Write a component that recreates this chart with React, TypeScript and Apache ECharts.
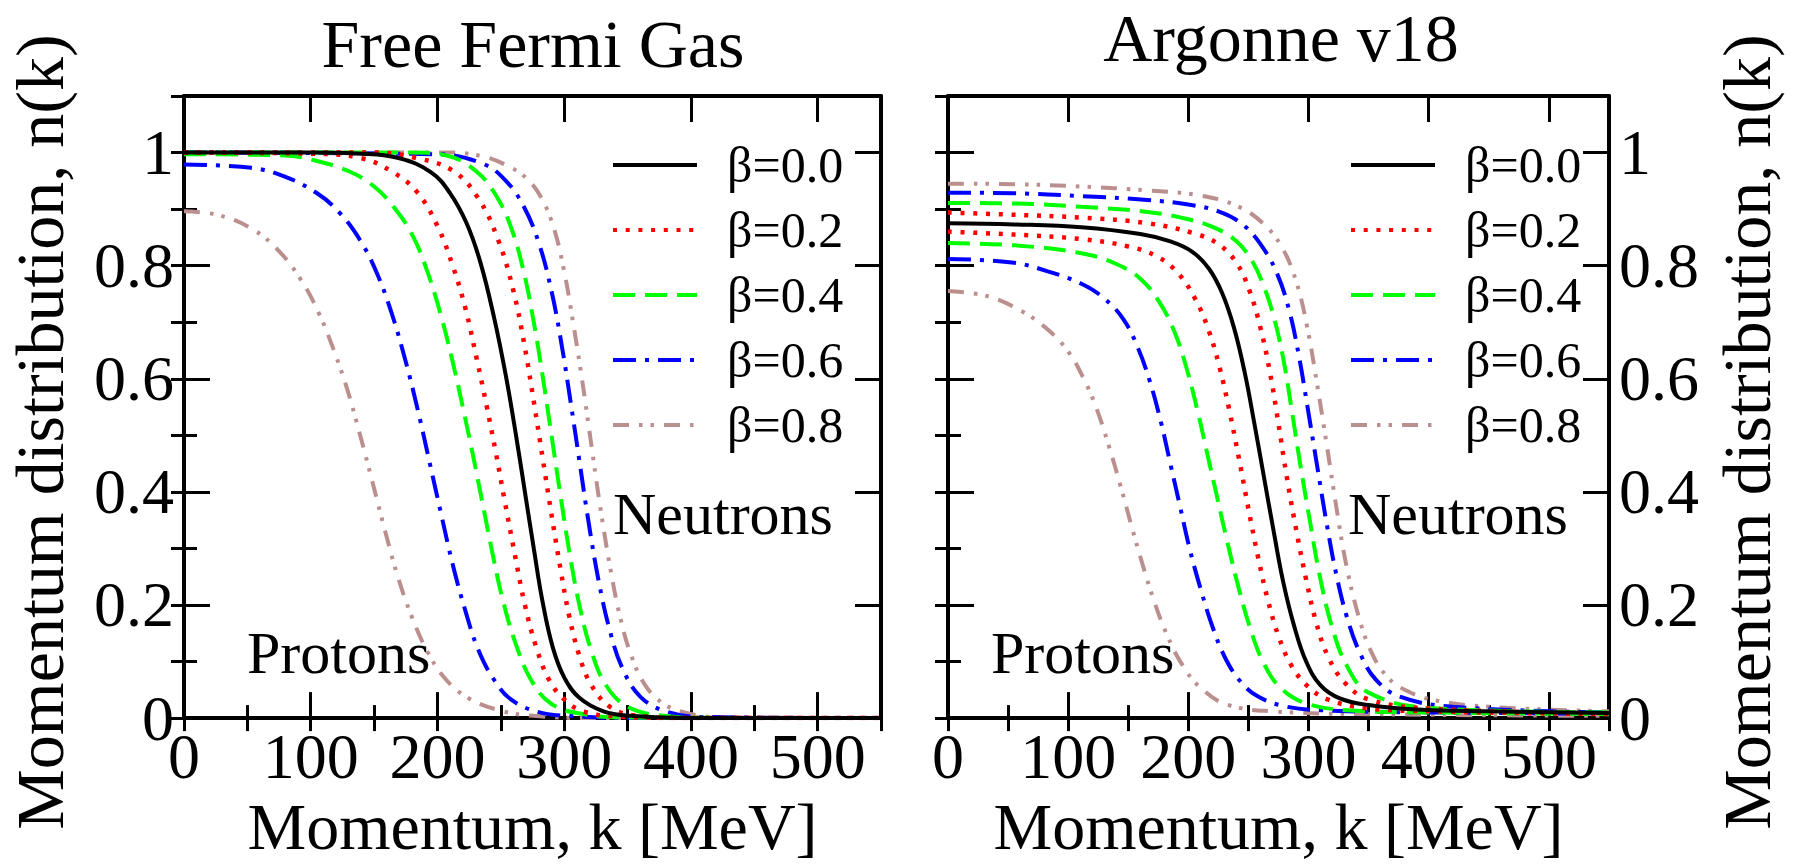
import React, { useEffect, useRef } from "react";
import * as echarts from "echarts";

// Legend labels, colours and dash patterns for the five β values
const betaLabels = ["β=0.0", "β=0.2", "β=0.4", "β=0.6", "β=0.8"];
const lineColors = ["#000000", "#ff0000", "#00ff00", "#0000ff", "#bc8f8f"];
const dashPatterns: any[] = ["solid", [4, 8.7], [22, 10], [23, 9, 4, 9], [16, 10, 3.5, 8, 3.5, 10]];
const panelTitles = ["Free Fermi Gas", "Argonne v18"];

// Free Fermi Gas: momentum k [MeV] vs n(k)
const ffgB00 = [[0, 1], [100, 1], [140, 0.998], [170, 0.99], [195, 0.965], [210, 0.928], [223, 0.875], [234, 0.805], [245, 0.705], [254, 0.605], [262, 0.5], [269, 0.4], [276, 0.3], [283, 0.205], [291, 0.125], [300, 0.072], [312, 0.036], [331, 0.012], [352, 0.004], [400, 0], [550, 0]];
const ffgP02 = [[0, 1], [100, 0.998], [140, 0.99], [165, 0.965], [184, 0.93], [200, 0.87], [212, 0.8], [222, 0.725], [231, 0.635], [239, 0.55], [246, 0.47], [253, 0.385], [261, 0.29], [269, 0.2], [278, 0.125], [288, 0.068], [300, 0.033], [315, 0.012], [340, 0.003], [400, 0], [550, 0]];
const ffgN02 = [[0, 1], [150, 1], [184, 0.99], [212, 0.968], [232, 0.92], [248, 0.845], [260, 0.755], [269, 0.655], [276, 0.56], [283, 0.46], [290, 0.36], [297, 0.265], [304, 0.18], [312, 0.11], [321, 0.06], [336, 0.02], [355, 0.005], [400, 0], [550, 0]];
const ffgP04 = [[0, 0.997], [79, 0.995], [105, 0.985], [131, 0.966], [150, 0.94], [165, 0.905], [180, 0.855], [192, 0.79], [203, 0.71], [212, 0.63], [220, 0.55], [228, 0.465], [236, 0.375], [244, 0.285], [252, 0.205], [262, 0.13], [274, 0.067], [290, 0.025], [315, 0.007], [350, 0.001], [550, 0]];
const ffgN04 = [[0, 1], [180, 1], [210, 0.993], [231, 0.966], [246, 0.925], [258, 0.868], [268, 0.79], [276, 0.7], [283, 0.605], [290, 0.5], [297, 0.395], [304, 0.295], [312, 0.2], [321, 0.122], [333, 0.058], [350, 0.02], [375, 0.005], [420, 0], [550, 0]];
const ffgP06 = [[0, 0.979], [53, 0.973], [79, 0.958], [105, 0.928], [123, 0.893], [139, 0.845], [152, 0.788], [164, 0.715], [175, 0.63], [185, 0.54], [194, 0.45], [203, 0.36], [212, 0.272], [222, 0.19], [232, 0.122], [244, 0.07], [258, 0.033], [279, 0.011], [302, 0.004], [350, 0], [550, 0]];
const ffgN06 = [[0, 1], [200, 0.997], [236, 0.98], [254, 0.95], [268, 0.905], [280, 0.84], [290, 0.755], [298, 0.66], [305, 0.56], [312, 0.455], [319, 0.35], [327, 0.245], [336, 0.155], [346, 0.088], [360, 0.038], [380, 0.012], [410, 0.002], [550, 0]];
const ffgP08 = [[0, 0.896], [26, 0.89], [53, 0.866], [74, 0.828], [92, 0.776], [106, 0.718], [118, 0.652], [129, 0.58], [139, 0.5], [149, 0.415], [159, 0.328], [169, 0.248], [180, 0.178], [192, 0.118], [206, 0.07], [224, 0.036], [250, 0.013], [276, 0.004], [320, 0], [550, 0]];
const ffgN08 = [[0, 1], [210, 1], [236, 0.993], [254, 0.978], [270, 0.955], [282, 0.92], [292, 0.865], [300, 0.79], [307, 0.7], [314, 0.6], [321, 0.49], [328, 0.38], [336, 0.27], [344, 0.18], [353, 0.11], [364, 0.058], [378, 0.026], [395, 0.01], [420, 0.002], [550, 0]];

// Argonne v18: momentum k [MeV] vs n(k)
const av18B00 = [[0, 0.875], [55, 0.873], [111, 0.868], [160, 0.856], [185, 0.843], [203, 0.825], [217, 0.795], [228, 0.752], [238, 0.69], [247, 0.61], [255, 0.52], [263, 0.425], [271, 0.33], [279, 0.24], [288, 0.163], [298, 0.1], [310, 0.058], [326, 0.035], [350, 0.023], [390, 0.015], [450, 0.012], [550, 0.009]];
const av18P02 = [[0, 0.86], [55, 0.855], [111, 0.847], [150, 0.834], [175, 0.815], [192, 0.785], [206, 0.74], [217, 0.685], [226, 0.62], [234, 0.545], [242, 0.46], [250, 0.37], [258, 0.285], [266, 0.21], [275, 0.145], [286, 0.092], [300, 0.055], [316, 0.033], [346, 0.018], [400, 0.012], [550, 0.007]];
const av18N02 = [[0, 0.894], [55, 0.89], [111, 0.885], [166, 0.875], [205, 0.857], [225, 0.838], [240, 0.805], [251, 0.755], [260, 0.69], [268, 0.61], [275, 0.52], [282, 0.425], [290, 0.33], [298, 0.245], [306, 0.172], [316, 0.11], [330, 0.063], [350, 0.033], [400, 0.017], [550, 0.008]];
const av18P04 = [[0, 0.84], [55, 0.836], [111, 0.822], [140, 0.803], [160, 0.777], [176, 0.735], [189, 0.68], [199, 0.615], [208, 0.54], [216, 0.465], [224, 0.39], [232, 0.315], [241, 0.237], [251, 0.162], [262, 0.1], [276, 0.055], [298, 0.026], [332, 0.014], [400, 0.01], [550, 0.007]];
const av18N04 = [[0, 0.911], [55, 0.91], [111, 0.904], [166, 0.895], [200, 0.882], [224, 0.865], [240, 0.843], [252, 0.812], [262, 0.768], [271, 0.71], [279, 0.635], [286, 0.545], [293, 0.45], [301, 0.35], [309, 0.255], [319, 0.165], [332, 0.092], [350, 0.045], [400, 0.018], [550, 0.01]];
const av18P06 = [[0, 0.812], [55, 0.805], [83, 0.79], [111, 0.768], [130, 0.742], [146, 0.705], [158, 0.655], [168, 0.595], [177, 0.525], [185, 0.45], [193, 0.375], [201, 0.3], [210, 0.23], [220, 0.162], [231, 0.105], [244, 0.063], [258, 0.038], [280, 0.021], [310, 0.014], [400, 0.01], [550, 0.008]];
const av18N06 = [[0, 0.929], [55, 0.928], [111, 0.923], [166, 0.916], [200, 0.908], [225, 0.896], [245, 0.873], [261, 0.835], [274, 0.785], [284, 0.72], [292, 0.64], [299, 0.552], [307, 0.448], [315, 0.345], [323, 0.255], [332, 0.178], [343, 0.114], [356, 0.068], [376, 0.038], [420, 0.02], [550, 0.01]];
const av18P08 = [[0, 0.755], [33, 0.746], [61, 0.72], [83, 0.687], [100, 0.648], [113, 0.6], [124, 0.545], [134, 0.48], [143, 0.415], [152, 0.345], [161, 0.278], [171, 0.21], [182, 0.148], [195, 0.094], [210, 0.054], [232, 0.024], [270, 0.012], [350, 0.007], [550, 0.004]];
const av18N08 = [[0, 0.945], [55, 0.944], [111, 0.94], [166, 0.933], [210, 0.924], [240, 0.906], [262, 0.875], [278, 0.832], [290, 0.77], [299, 0.69], [307, 0.592], [315, 0.485], [323, 0.375], [331, 0.275], [341, 0.185], [352, 0.118], [365, 0.074], [380, 0.05], [404, 0.032], [450, 0.02], [550, 0.012]];

// Curves per panel, indexed by β (β=0 has a single curve)
const panelCurves = [
  [[ffgB00], [ffgP02, ffgN02], [ffgP04, ffgN04], [ffgP06, ffgN06], [ffgP08, ffgN08]],
  [[av18B00], [av18P02, av18N02], [av18P04, av18N04], [av18P06, av18N06], [av18P08, av18N08]],
];

const FONT = "'Liberation Serif', 'Times New Roman', serif";
const BLACK = "#000";

const grids = [
  { left: 184, top: 96, width: 697, height: 631 },
  { left: 948, top: 96, width: 661, height: 631 },
];

function fmtY(v: number) {
  if (v > 1.05) return "";
  const r = Math.round(v * 10) / 10;
  return String(r);
}

function buildXAxes(g: number) {
  const common = { gridIndex: g, type: "value", min: 0, max: 550, splitLine: { show: false } };
  const tick = (len: number) => ({ show: true, inside: true, length: len, lineStyle: { color: BLACK, width: 3 } });
  const line = { show: true, onZero: false, lineStyle: { color: BLACK, width: 4 } };
  return [
    {
      ...common, position: "bottom", interval: 100, axisLine: line, axisTick: tick(26),
      axisLabel: {
        show: true, margin: 6, color: BLACK, fontFamily: FONT, fontSize: 64, showMaxLabel: false,
        formatter: (v: number) => (v > 500 ? "" : String(v)),
      },
      name: "Momentum, k [MeV]", nameLocation: "middle", nameGap: 69,
      nameTextStyle: { color: BLACK, fontFamily: FONT, fontSize: 66 },
    },
    { ...common, position: "bottom", interval: 50, axisLine: { show: false }, axisTick: tick(13), axisLabel: { show: false } },
    { ...common, position: "top", interval: 100, axisLine: line, axisTick: tick(26), axisLabel: { show: false } },
    { ...common, position: "top", interval: 50, axisLine: { show: false }, axisTick: tick(13), axisLabel: { show: false } },
  ];
}

function buildYAxes(g: number) {
  const common = { gridIndex: g, type: "value", min: 0, max: 1.1, splitLine: { show: false } };
  const tick = (len: number) => ({ show: true, inside: true, length: len, lineStyle: { color: BLACK, width: 3 } });
  const line = { show: true, onZero: false, lineStyle: { color: BLACK, width: 4 } };
  const labelSide = g === 0 ? "left" : "right";
  const label = { show: true, margin: 10, color: BLACK, fontFamily: FONT, fontSize: 64, formatter: fmtY };
  const name = {
    name: "Momentum distribution, n(k)", nameLocation: "middle", nameGap: g === 0 ? 110 : 104,
    nameTextStyle: { color: BLACK, fontFamily: FONT, fontSize: 68, padding: [0, 50, 0, 0] },
  };
  return [
    { ...common, position: "left", interval: 0.2, axisLine: line, axisTick: tick(26), axisLabel: labelSide === "left" ? label : { show: false }, ...(g === 0 ? name : {}) },
    { ...common, position: "left", interval: 0.1, axisLine: { show: false }, axisTick: tick(13), axisLabel: { show: false } },
    { ...common, position: "right", interval: 0.2, axisLine: line, axisTick: tick(26), axisLabel: labelSide === "right" ? label : { show: false }, ...(g === 1 ? name : {}) },
    { ...common, position: "right", interval: 0.1, axisLine: { show: false }, axisTick: tick(13), axisLabel: { show: false } },
  ];
}

function buildSeries() {
  const out: any[] = [];
  panelCurves.forEach((curves, p) => {
    curves.forEach((group, b) => {
      group.forEach((data) => {
        out.push({
          type: "line",
          name: betaLabels[b],
          xAxisIndex: p * 4,
          yAxisIndex: p * 4,
          data,
          symbol: "none",
          showSymbol: false,
          smooth: 0.4,
          clip: true,
          z: 10 - b,
          lineStyle: { color: lineColors[b], width: b === 1 ? 4.5 : 4, type: dashPatterns[b], cap: "butt" },
          itemStyle: { color: lineColors[b] },
        });
      });
    });
  });
  return out;
}

function buildLegend(left: number) {
  return {
    data: betaLabels,
    orient: "vertical",
    left,
    top: 135,
    itemWidth: 84,
    itemHeight: 50,
    itemGap: 15,
    selectedMode: false,
    itemStyle: { opacity: 0 },
    lineStyle: { width: 4 },
    textStyle: { color: BLACK, fontFamily: FONT, fontSize: 50, padding: [0, 0, 0, 25] },
  };
}

const annotations = [
  { text: "Neutrons", x: 613, y: 514 },
  { text: "Protons", x: 247, y: 653 },
  { text: "Neutrons", x: 1348, y: 514 },
  { text: "Protons", x: 991, y: 653 },
];

export default function App() {
  const ref = useRef<HTMLDivElement>(null);
  useEffect(() => {
    if (!ref.current) return;
    const chart = echarts.init(ref.current, undefined, { renderer: "svg" });
    chart.setOption({
      animation: false,
      backgroundColor: "#fff",
      title: [
        { text: panelTitles[0], left: 533, top: 10, padding: 0, textAlign: "center", textStyle: { color: BLACK, fontFamily: FONT, fontSize: 68, fontWeight: "normal" } },
        { text: panelTitles[1], left: 1281, top: 4, padding: 0, textAlign: "center", textStyle: { color: BLACK, fontFamily: FONT, fontSize: 68, fontWeight: "normal" } },
      ],
      grid: grids,
      xAxis: [...buildXAxes(0), ...buildXAxes(1)],
      yAxis: [...buildYAxes(0), ...buildYAxes(1)],
      legend: [buildLegend(606), buildLegend(1344)],
      series: buildSeries(),
      graphic: annotations.map((a) => ({
        type: "text",
        x: a.x,
        y: a.y,
        z: 20,
        style: { text: a.text, fill: BLACK, font: `60px ${FONT}`, verticalAlign: "middle", align: "left" },
      })),
    });
    return () => chart.dispose();
  }, []);
  return <div ref={ref} style={{ position: "absolute", left: 0, top: 0, width: 1793, height: 864, background: "#fff" }} />;
}
